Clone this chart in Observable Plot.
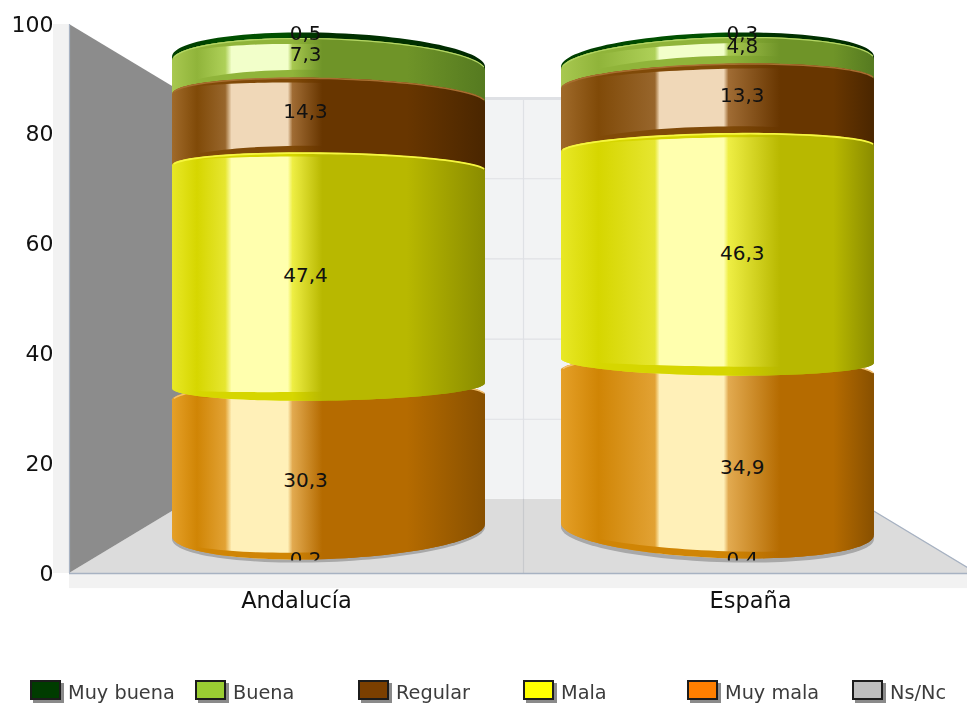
<!DOCTYPE html>
<html lang="es">
<head>
<meta charset="utf-8">
<script src="https://cdn.jsdelivr.net/npm/d3@7"></script>
<script src="https://cdn.jsdelivr.net/npm/@observablehq/plot@0.6"></script>
<style>
html,body{margin:0;padding:0;background:#fff;overflow:hidden}
#chart svg{display:block;filter:blur(.45px)}
#legend{position:relative;height:47px;font:19.3px "DejaVu Sans",sans-serif;color:#3c3c3c;filter:blur(.35px)}
.item{position:absolute;top:20px;display:flex;align-items:flex-start;white-space:nowrap}
.swatch{width:31px;height:20px;box-sizing:border-box;border:2px solid #1c1c1c;box-shadow:3px 3px 0 #8a8a8a;margin-right:7px}
.item span{line-height:26px}
</style>
</head>
<body>
<div id="chart"></div>
<div id="legend"></div>
<script>
const categories = ["Andalucía", "España"];
const seriesNames = ["Ns/Nc", "Muy mala", "Mala", "Regular", "Buena", "Muy buena"];
const andalucia = [0.2, 30.3, 47.4, 14.3, 7.3, 0.5];
const espana = [0.4, 34.9, 46.3, 13.3, 4.8, 0.3];
const legendOrder = ["Muy buena", "Buena", "Regular", "Mala", "Muy mala", "Ns/Nc"];
const legendColors = ["#003c00", "#9acd32", "#7b3f00", "#ffff00", "#ff7f00", "#bdbdbd"];
const yTicks = [0, 20, 40, 60, 80, 100];

// shading: light, mid, soft, highlight, fade, shade, dark
const shades = {
  "Mala": ["#e8e826", "#d6d600", "#e6e630", "#ffffae", "#eeee44", "#b8b800", "#8a8c00"],
  "Muy mala": ["#e5a028", "#d08505", "#e2a234", "#fff0b8", "#e2aa50", "#b56b00", "#885000"],
  "Regular": ["#a06a2a", "#804a08", "#98662c", "#f0d8b8", "#a06c34", "#683600", "#4a2600"],
  "Buena": ["#a8c850", "#90b43a", "#aed058", "#f2ffca", "#a8c850", "#6f9428", "#557a20"],
  "Muy buena": ["#004000", "#004000", "#005000", "#005000", "#004000", "#003000", "#002800"],
  "Ns/Nc": ["#a8a8a8", "#a8a8a8", "#a8a8a8", "#a8a8a8", "#a8a8a8", "#a8a8a8", "#a8a8a8"]
};
const stopOffsets = [
  [0, .08, .17, .19, .37, .385, .48, .75, 1],
  [0, .12, .30, .315, .52, .535, .70, .87, 1]
];
const stopIndex = [0, 1, 2, 3, 3, 4, 5, 5, 6];

const centers = [0.5716, 1.4284];   // cylinder axes, in x units
const labelX = [0.52, 1.482];
const labelNudge = [0, 0, 1.5, 4, 5, 5.5];  // px upward
const halfWidth = 0.3447;
const unit = 5.49;                  // px per y unit
const depthY = 13.5, depthX = 0.271;
const yCyl = v => 2.37 + 0.952 * v;
const ts = d3.range(0, 61).map(i => Math.PI * i / 60);

function tilt(v, c) { return (c === 0 ? 1 : -1) * (-6 + 0.11 * v); }
function up(v, h, c, shift = 0) {
  return t => yCyl(v) + (shift - h * (1 - Math.sin(t)) - tilt(v, c) * Math.cos(t)) / unit;
}
function down(v, h, c, shift = 0) {
  return t => yCyl(v) + (shift + h * (1 - Math.sin(t)) - tilt(v, c) * Math.cos(t)) / unit;
}
function shape(c, lower, upper) {
  return ts.map(t => ({x: centers[c] + halfWidth * Math.cos(t), y1: lower(t), y2: upper(t)}));
}
function curve(c, f) {
  return ts.filter(t => t > 0.12 && t < Math.PI - 0.12).map(t => ({x: centers[c] + halfWidth * Math.cos(t), y: f(t)}));
}
const gid = (c, s, band) => `url(#g${c}-${seriesNames.indexOf(s)}${band ? "b" : ""})`;

function defs() {
  const d = d3.create("svg:defs");
  [0, 1].forEach(c => seriesNames.forEach((s, si) => {
    [false, true].forEach(band => {
      const g = d.append("linearGradient").attr("id", `g${c}-${si}${band ? "b" : ""}`)
        .attr("x1", 0).attr("x2", 1).attr("y1", 0).attr("y2", 0);
      stopOffsets[c].forEach((o, i) => {
        let k = stopIndex[i];
        if (band && k >= 2 && k <= 4) k = 1;
        g.append("stop").attr("offset", o).attr("stop-color", shades[s][k]);
      });
    });
  }));
  return d.node();
}

function cylinderMarks(values, c) {
  const b = [0];
  values.forEach(v => b.push(+(b[b.length - 1] + v).toFixed(1)));
  const area = (s, lower, upper, band) =>
    Plot.areaY(shape(c, lower, upper), {x: "x", y1: "y1", y2: "y2", fill: gid(c, s, band), curve: "linear"});
  const bandOff = (f, px) => t => f(t) + px * Math.sin(t) / unit;
  const rim = (f, color, w) => Plot.line(curve(c, f), {x: "x", y: "y", stroke: color, strokeWidth: w});
  const orangeBottom = down(b[1], 29, c);
  const yellowBottom = down(b[2], 15, c);
  const yellowTop = up(b[3], 15, c);
  const brownTop = up(b[4], 20, c);
  const greenTop = up(b[5], 27, c, 1.5);
  const darkTop = up(b[6], 29, c, 4.5);
  const orangeTop = up(b[2], 17, c, 20);
  return [
    area("Ns/Nc", down(b[0], 29, c, -2), orangeTop),
    area("Muy buena", up(b[5], 27, c, -3), darkTop),
    area("Buena", up(b[4], 20, c, -5), greenTop),
    area("Buena", up(b[4], 20, c, -5), bandOff(brownTop, 8), true),
    area("Buena", bandOff(greenTop, -6), greenTop, true),
    rim(greenTop, "#b4d664", 1.2),
    area("Regular", up(b[3], 15, c, -5), brownTop),
    area("Regular", up(b[3], 15, c, -5), bandOff(yellowTop, 7), true),
    area("Regular", bandOff(brownTop, -5), brownTop, true),
    rim(brownTop, "#a86e30", 1.5),
    area("Muy mala", orangeBottom, orangeTop),
    area("Muy mala", orangeBottom, bandOff(orangeBottom, 7), true),
    area("Muy mala", bandOff(orangeTop, -14), orangeTop, true),
    rim(orangeTop, "#f4c070", 1.5),
    area("Mala", yellowBottom, yellowTop),
    area("Mala", yellowBottom, bandOff(yellowBottom, 9), true),
    area("Mala", bandOff(yellowTop, -4), yellowTop, true),
    rim(yellowTop, "#f6f640", 1.8)
  ];
}

function labelRows(values, c) {
  let sum = 0;
  return values.map((v, i) => {
    const row = {x: labelX[c], y: yCyl(sum + v / 2) + labelNudge[i] / unit, text: v.toFixed(1).replace(".", ",")};
    sum += v;
    return row;
  });
}
const labels = [...labelRows(andalucia, 0), ...labelRows(espana, 1)];
const clipped = labels.filter((d, i) => i % 6 === 0);
const whole = labels.filter((d, i) => i % 6 !== 0);

const backY = t => depthY + (100 - 2 * depthY) * t / 100;
const wallColor = "#8c8c8c", floorColor = "#dcdcdc", backColor = "#f2f3f4", gridColor = "#dfe1e5", edgeColor = "#a7b2c2", bandColor = "#f2f2f2";
const textFont = {fontFamily: "DejaVu Sans", fill: "#111"};

const plot = Plot.plot({
  width: 967,
  height: 660,
  marginTop: 24,
  marginBottom: 87,
  marginLeft: 69,
  marginRight: -10,
  x: {domain: [0, 2], axis: null},
  y: {domain: [0, 100], axis: null},
  style: {background: "transparent", overflow: "hidden"},
  marks: [
    defs,
    // side and bottom bands
    Plot.rect([0], {x1: -0.0352, x2: 0, y1: 0, y2: 100, fill: bandColor}),
    Plot.rect([0], {x1: 0, x2: 2, y1: -2.75, y2: 0, fill: bandColor}),
    // back wall
    Plot.rect([0], {x1: depthX, x2: 2 - depthX, y1: depthY, y2: 100 - depthY, fill: backColor}),
    Plot.ruleY(yTicks.slice(1, 5).map(backY), {x1: depthX, x2: 2 - depthX, stroke: gridColor, strokeWidth: 1.2}),
    Plot.ruleY([100 - depthY], {x1: depthX, x2: 2 - depthX, stroke: gridColor, strokeWidth: 3}),
    // floor
    Plot.areaX([{y: 0, a: 0, b: 2}, {y: depthY, a: depthX, b: 2 - depthX}], {y: "y", x1: "a", x2: "b", fill: floorColor}),
    Plot.ruleX([1], {y1: 0, y2: 100 - depthY, stroke: gridColor, strokeWidth: 1.2}),
    Plot.ruleX([1], {y1: 0, y2: depthY, stroke: "#c8cacd", strokeWidth: 1.2}),
    Plot.line([{x: 2, y: 0}, {x: 2 - depthX, y: depthY}], {x: "x", y: "y", stroke: edgeColor, strokeWidth: 1.2}),
    // left wall
    Plot.areaY([{x: 0, a: 0, b: 100}, {x: depthX, a: depthY, b: 100 - depthY}], {x: "x", y1: "a", y2: "b", fill: wallColor}),
    Plot.ruleX([0], {y1: 0, y2: 100, stroke: edgeColor, strokeWidth: 1.2}),
    Plot.ruleY([0], {x1: 0, x2: 2, stroke: edgeColor, strokeWidth: 1.5}),
    ...cylinderMarks(andalucia, 0),
    ...cylinderMarks(espana, 1),
    Plot.text(whole, {x: "x", y: "y", text: "text", fontSize: 20, ...textFont}),
    Plot.text(clipped, {x: "x", y: "y", text: "text", fontSize: 20, ...textFont,
      render(index, scales, values, dimensions, context, next) {
        const g = next(index, scales, values, dimensions, context);
        g.style.clipPath = "inset(0 0 46% 0)";
        return g;
      }}),
    Plot.axisY({ticks: yTicks, tickSize: 0, tickPadding: 16, fontSize: 22, label: null, ...textFont}),
    Plot.axisX({ticks: [0.5, 1.5], tickSize: 0, tickPadding: 19, fontSize: 22.5, label: null, ...textFont,
      tickFormat: d => categories[d < 1 ? 0 : 1]})
  ]
});
document.getElementById("chart").appendChild(plot);

const legendX = [30, 195, 358, 523, 687, 852];
const legend = d3.select("#legend");
legendOrder.forEach((name, i) => {
  const it = legend.append("div").attr("class", "item").style("left", legendX[i] + "px");
  it.append("div").attr("class", "swatch").style("background", legendColors[i]);
  it.append("span").text(name);
});
</script>
</body>
</html>
